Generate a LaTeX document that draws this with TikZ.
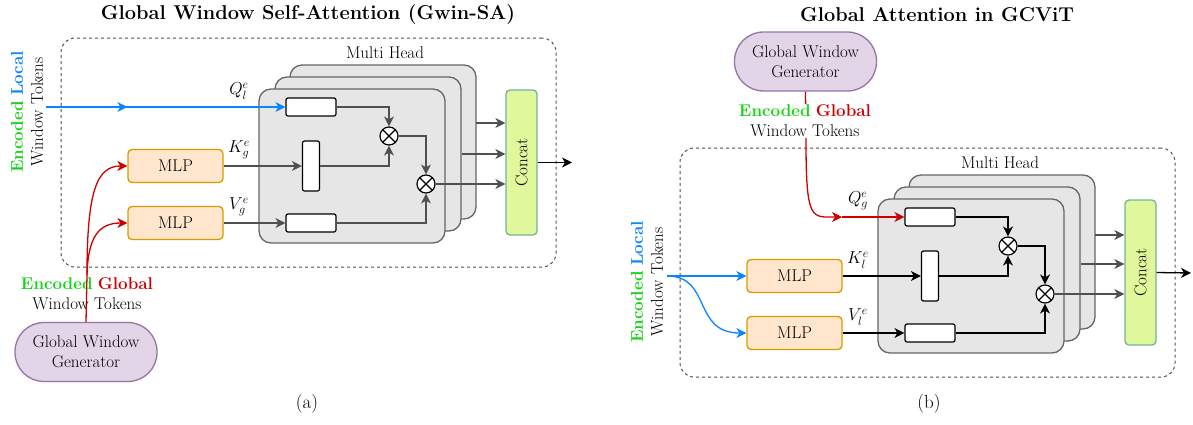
\documentclass[tikz,border=0pt]{standalone}
\usepackage{fontspec}
\usetikzlibrary{arrows.meta,decorations.markings}
\definecolor{mlpfill}{HTML}{FFE6CC}
\definecolor{mlpdraw}{HTML}{D79B00}
\definecolor{genfill}{HTML}{E1D5E7}
\definecolor{gendraw}{HTML}{9673A6}
\definecolor{headfill}{HTML}{E6E6E6}
\definecolor{headdraw}{HTML}{666666}
\definecolor{catfill}{HTML}{E0F79C}
\definecolor{catdraw}{HTML}{72B3A2}
\definecolor{lineg}{HTML}{505050}
\definecolor{locblue}{HTML}{0A84FF}
\definecolor{globred}{HTML}{CC0000}
\definecolor{encgreen}{HTML}{14D414}
\tikzset{
  >={Stealth[length=10pt,width=10pt,inset=3pt]},
  every node/.style={font=\fontsize{17}{20}\selectfont},
  frame/.style={rectangle, draw=lineg, dashed, line width=1pt, rounded corners=14pt, minimum width=495pt, minimum height=229pt},
  head/.style={rectangle, draw=headdraw, fill=headfill, line width=1.3pt, rounded corners=12pt, minimum width=186pt, minimum height=154pt},
  mlp/.style={rectangle, draw=mlpdraw, fill=mlpfill, line width=1.3pt, rounded corners=4pt, minimum width=95pt, minimum height=33pt, inner sep=0pt},
  gen/.style={rectangle, draw=gendraw, fill=genfill, line width=1.3pt, rounded corners=29pt, minimum width=142pt, minimum height=59pt, align=center, inner sep=0pt},
  concat/.style={rectangle, draw=catdraw, fill=catfill, line width=1.3pt, rounded corners=4pt, minimum width=31pt, minimum height=145pt},
  hbar/.style={rectangle, draw=black, fill=white, line width=1.2pt, rounded corners=2pt, minimum width=50pt, minimum height=18pt, inner sep=0pt},
  vbar/.style={rectangle, draw=black, fill=white, line width=1.2pt, rounded corners=2pt, minimum width=17pt, minimum height=50pt, inner sep=0pt},
  otimes/.style={circle, draw=black, fill=white, line width=1.2pt, minimum size=18pt, inner sep=0pt,
    path picture={\draw[line width=1.2pt] ([shift={(45:9pt)}]path picture bounding box.center) -- ([shift={(225:9pt)}]path picture bounding box.center);
                  \draw[line width=1.2pt] ([shift={(135:9pt)}]path picture bounding box.center) -- ([shift={(315:9pt)}]path picture bounding box.center);}},
  gline/.style={draw=lineg, line width=1.3pt, ->},
  bline/.style={draw=black, line width=1.3pt, ->},
  blueline/.style={draw=locblue, line width=1.3pt},
  redline/.style={draw=globred, line width=1.3pt},
  midarrow/.style={postaction={decorate}, decoration={markings, mark=at position #1 with {\arrow{>}}}},
  title/.style={font=\fontsize{20}{24}\selectfont\bfseries},
  sublabel/.style={font=\fontsize{19}{22}\selectfont},
}
\begin{document}
\begin{tikzpicture}[x=1pt, y=-1pt]
  \useasboundingbox (0,0) rectangle (1193,424);
  % ---------------- (a) Gwin-SA ----------------
  \node (title-a) [title] at (308,15) {Global Window Self-Attention (Gwin-SA)};
  \node (frame-a) [frame] at (308.5,152.5) {};
  \node (mh-a) [] at (385,53) {Multi Head};
  \node (head3-a) [head] at (383,142) {};
  \node (head2-a) [head] at (368,154) {};
  \node (head1-a) [head] at (352,166) {};
  % Nodes
  \node (q-a) [hbar] at (311,107) {};
  \node (k-a) [vbar] at (311,166) {};
  \node (v-a) [hbar] at (311,223) {};
  \node (ox1-a) [otimes] at (389,136) {};
  \node (ox2-a) [otimes] at (426,184) {};
  \node (cat-a) [concat] at (521.5,162.5) {\rotatebox{90}{Concat}};
  \node (mlp1-a) [mlp] at (175.5,166) {MLP};
  \node (mlp2-a) [mlp] at (175.5,223) {MLP};
  \node (ql-a) [] at (239,91) {$Q_l^e$};
  \node (kg-a) [] at (239,150) {$K_g^e$};
  \node (vg-a) [] at (239,207) {$V_g^e$};
  \node (loc-a) [rotate=90, align=center, inner sep=0pt] at (27,112) {\textcolor{encgreen}{\textbf{Encoded}} \textcolor{locblue}{\textbf{Local}}\\Window Tokens};
  \node (gen-a) [gen] at (86,352) {Global Window\\Generator};
  \coordinate (in-a) at (46,107);
  \coordinate (split-a) at (87,275);
  \coordinate (out-a) at (572,162.5);
  \coordinate (r3-a) at (476,123);
  \coordinate (r2-a) at (462,154);
  % Arrow
  \draw[redline] (gen-a.north) -- (split-a);
  \node (glob-a) [align=center, inner sep=1pt] at (87,294) {\textcolor{encgreen}{\textbf{Encoded}} \textcolor{globred}{\textbf{Global}}\\Window Tokens};
  \draw[redline, ->] (split-a) .. controls (87,190) and (97,166) .. (mlp1-a.west);
  \draw[redline, ->] (split-a) .. controls (88,235) and (100,223) .. (mlp2-a.west);
  \draw[blueline, midarrow=0.34, ->] (in-a) -- (q-a.west);
  \draw[gline] (mlp1-a.east) -- (k-a.west);
  \draw[gline] (mlp2-a.east) -- (v-a.west);
  \draw[gline] (q-a.east) -| (ox1-a.north);
  \draw[gline] (k-a.east) -| (ox1-a.south);
  \draw[gline] (ox1-a.east) -| (ox2-a.north);
  \draw[gline] (v-a.east) -| (ox2-a.south);
  \draw[gline] (r3-a) -- (r3-a -| cat-a.west);
  \draw[gline] (r2-a) -- (r2-a -| cat-a.west);
  \draw[gline] (ox2-a.east) -- (ox2-a.east -| cat-a.west);
  \draw[bline] (cat-a.east) -- (out-a);
  \node (lab-a) [sublabel] at (307,404) {(a)};
  % ---------------- (b) GCViT ----------------
  \node (title-b) [title] at (937,15) {Global Attention in GCViT};
  \node (frame-b) [frame] at (927.5,262.5) {};
  \node (mh-b) [] at (1000,163) {Multi Head};
  \node (head3-b) [head] at (1002,252) {};
  \node (head2-b) [head] at (987,264) {};
  \node (head1-b) [head] at (971,276) {};
  % Nodes
  \node (q-b) [hbar] at (930,217) {};
  \node (k-b) [vbar] at (930,276) {};
  \node (v-b) [hbar] at (930,333) {};
  \node (ox1-b) [otimes] at (1008,246) {};
  \node (ox2-b) [otimes] at (1045,294) {};
  \node (cat-b) [concat] at (1140.5,272.5) {\rotatebox{90}{Concat}};
  \node (mlp1-b) [mlp] at (794.5,276) {MLP};
  \node (mlp2-b) [mlp] at (794.5,333) {MLP};
  \node (qg-b) [] at (858,201) {$Q_g^e$};
  \node (kl-b) [] at (858,260) {$K_l^e$};
  \node (vl-b) [] at (858,317) {$V_l^e$};
  \node (loc-b) [rotate=90, align=center, inner sep=0pt] at (647,282) {\textcolor{encgreen}{\textbf{Encoded}} \textcolor{locblue}{\textbf{Local}}\\Window Tokens};
  \node (gen-b) [gen] at (805.5,61.5) {Global Window\\Generator};
  \coordinate (in-b) at (667,276);
  \coordinate (split-b) at (806,142);
  \coordinate (qin-b) at (842,217);
  \coordinate (out-b) at (1191,273);
  \coordinate (r3-b) at (1095,235);
  \coordinate (r2-b) at (1081,264);
  % Arrow
  \draw[redline] (gen-b.south) -- (split-b);
  \node (glob-b) [align=center, fill=white, inner sep=1pt] at (805,121) {\textcolor{encgreen}{\textbf{Encoded}} \textcolor{globred}{\textbf{Global}}\\Window Tokens};
  \draw[redline, ->] (split-b) .. controls (806,222) and (812,217) .. (qin-b);
  \draw[redline, ->] (qin-b) -- (q-b.west);
  \draw[blueline, ->] (in-b) -- (mlp1-b.west);
  \draw[blueline, ->] (in-b) .. controls (712,276) and (692,333) .. (mlp2-b.west);
  \draw[bline] (mlp1-b.east) -- (k-b.west);
  \draw[bline] (mlp2-b.east) -- (v-b.west);
  \draw[bline] (q-b.east) -| (ox1-b.north);
  \draw[bline] (k-b.east) -| (ox1-b.south);
  \draw[bline] (ox1-b.east) -| (ox2-b.north);
  \draw[bline] (v-b.east) -| (ox2-b.south);
  \draw[gline] (r3-b) -- (r3-b -| cat-b.west);
  \draw[gline] (r2-b) -- (r2-b -| cat-b.west);
  \draw[gline] (ox2-b.east) -- (ox2-b.east -| cat-b.west);
  \draw[bline] (cat-b.east) -- (out-b);
  \node (lab-b) [sublabel] at (929,404) {(b)};
\end{tikzpicture}
\end{document}
